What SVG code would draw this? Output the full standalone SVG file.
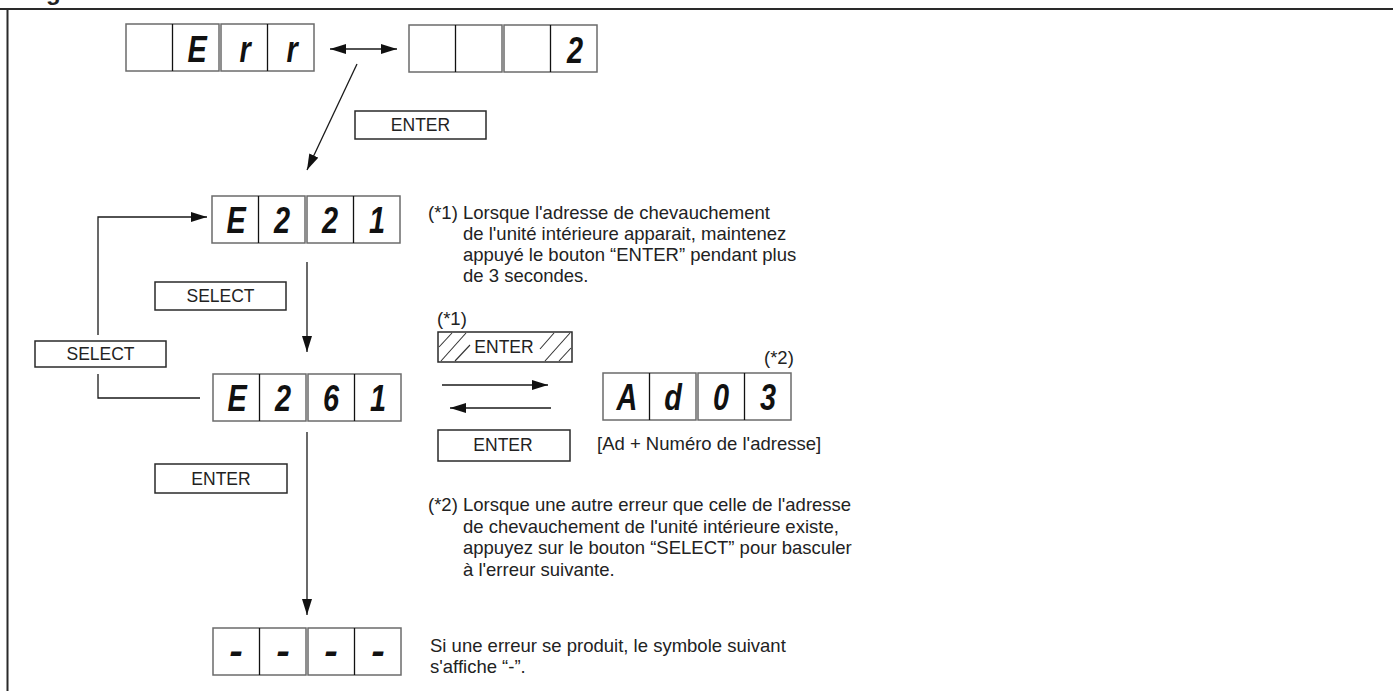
<svg xmlns="http://www.w3.org/2000/svg" width="1393" height="691" viewBox="0 0 1393 691">
<style>
  .frame{stroke:#2a2a2a;stroke-width:2;fill:none}
  .unit{fill:#fff;stroke:#6b6b6b;stroke-width:1.5}
  .div{stroke:#111;stroke-width:1.3}
  .seg{font-family:"Liberation Sans",Arial,sans-serif;font-weight:bold;font-style:italic;font-size:37px;fill:#111;text-anchor:middle}
  .btn{fill:#fff;stroke:#2a2a2a;stroke-width:1.5}
  .btxt{font-family:"Liberation Sans",Arial,sans-serif;font-size:17.5px;fill:#222;text-anchor:middle}
  .note{font-family:"Liberation Sans",Arial,sans-serif;font-size:18.5px;fill:#222}
  .con{stroke:#1a1a1a;stroke-width:1.3;fill:none}
  .hatch{stroke:#333;stroke-width:1.1}
</style>
<defs>
  <marker id="ah" markerUnits="userSpaceOnUse" markerWidth="17" markerHeight="10" refX="16" refY="5" orient="auto-start-reverse">
    <path d="M0,0 L16,5 L0,10 z" fill="#111"/>
  </marker>
</defs>
<rect x="0" y="0" width="1393" height="691" fill="#fff"/>
<g id="frame">
  <line class="frame" x1="0" y1="9" x2="1393" y2="9"/>
  <line class="frame" x1="7.5" y1="9" x2="7.5" y2="691"/>
  <text x="46" y="0" font-family="Liberation Sans,Arial,sans-serif" font-weight="bold" font-size="24" fill="#222">g</text>
</g>

<g id="disp-err">
  <rect class="unit" x="126" y="24" width="93" height="47"/>
  <rect class="unit" x="221" y="24" width="93" height="47"/>
  <line class="div" x1="172.5" y1="24" x2="172.5" y2="71"/>
  <line class="div" x1="267.5" y1="24" x2="267.5" y2="71"/>
  <text class="seg" transform="translate(197,62) scale(0.78,1)">E</text>
  <text class="seg" transform="translate(245,62) scale(0.78,1)">r</text>
  <text class="seg" transform="translate(292,62) scale(0.78,1)">r</text>
</g>

<g id="disp-2">
  <rect class="unit" x="409" y="25" width="93" height="47"/>
  <rect class="unit" x="504" y="25" width="93" height="47"/>
  <line class="div" x1="455.5" y1="25" x2="455.5" y2="72"/>
  <line class="div" x1="550.5" y1="25" x2="550.5" y2="72"/>
  <text class="seg" transform="translate(575,63) scale(0.78,1)">2</text>
</g>

<g id="disp-e221">
  <rect class="unit" x="212" y="196" width="93" height="47"/>
  <rect class="unit" x="307" y="196" width="93" height="47"/>
  <line class="div" x1="258.5" y1="196" x2="258.5" y2="243"/>
  <line class="div" x1="353.5" y1="196" x2="353.5" y2="243"/>
  <text class="seg" transform="translate(236,233) scale(0.78,1)">E</text>
  <text class="seg" transform="translate(282,233) scale(0.78,1)">2</text>
  <text class="seg" transform="translate(330,233) scale(0.78,1)">2</text>
  <text class="seg" transform="translate(377,233) scale(0.78,1)">1</text>
</g>

<g id="disp-e261">
  <rect class="unit" x="213" y="374" width="93" height="47"/>
  <rect class="unit" x="308" y="374" width="93" height="47"/>
  <line class="div" x1="259.5" y1="374" x2="259.5" y2="421"/>
  <line class="div" x1="354.5" y1="374" x2="354.5" y2="421"/>
  <text class="seg" transform="translate(237,411) scale(0.78,1)">E</text>
  <text class="seg" transform="translate(283,411) scale(0.78,1)">2</text>
  <text class="seg" transform="translate(331,411) scale(0.78,1)">6</text>
  <text class="seg" transform="translate(378,411) scale(0.78,1)">1</text>
</g>

<g id="disp-ad03">
  <rect class="unit" x="603" y="373" width="93" height="47"/>
  <rect class="unit" x="698" y="373" width="93" height="47"/>
  <line class="div" x1="649.5" y1="373" x2="649.5" y2="420"/>
  <line class="div" x1="744.5" y1="373" x2="744.5" y2="420"/>
  <text class="seg" transform="translate(627,410) scale(0.78,1)">A</text>
  <text class="seg" transform="translate(673,410) scale(0.78,1)">d</text>
  <text class="seg" transform="translate(721,410) scale(0.78,1)">0</text>
  <text class="seg" transform="translate(768,410) scale(0.78,1)">3</text>
</g>

<g id="disp-dash">
  <rect class="unit" x="213" y="628" width="93" height="47"/>
  <rect class="unit" x="308" y="628" width="93" height="47"/>
  <line class="div" x1="259.5" y1="628" x2="259.5" y2="675"/>
  <line class="div" x1="354.5" y1="628" x2="354.5" y2="675"/>
  <text class="seg" transform="translate(236,663) scale(1.1,1)">-</text>
  <text class="seg" transform="translate(283,663) scale(1.1,1)">-</text>
  <text class="seg" transform="translate(331,663) scale(1.1,1)">-</text>
  <text class="seg" transform="translate(378,663) scale(1.1,1)">-</text>
</g>

<g id="btn-enter-top">
  <rect class="btn" x="355" y="111" width="131" height="28"/>
  <text class="btxt" x="420.5" y="131">ENTER</text>
</g>
<g id="btn-select-mid">
  <rect class="btn" x="155" y="282" width="131" height="28"/>
  <text class="btxt" x="220.5" y="302">SELECT</text>
</g>
<g id="btn-select-left">
  <rect class="btn" x="35" y="341" width="131" height="26"/>
  <text class="btxt" x="100.5" y="360">SELECT</text>
</g>
<g id="btn-enter-left">
  <rect class="btn" x="155" y="464" width="132" height="29"/>
  <text class="btxt" x="221" y="485">ENTER</text>
</g>
<g id="btn-enter-hatched">
  <rect class="btn" x="438" y="332" width="134" height="30"/>
  <line class="hatch" x1="439" y1="347" x2="452" y2="333"/>
  <line class="hatch" x1="441" y1="361" x2="466" y2="333"/>
  <line class="hatch" x1="455" y1="361" x2="470" y2="345"/>
  <line class="hatch" x1="540" y1="349" x2="554" y2="333"/>
  <line class="hatch" x1="545" y1="361" x2="570" y2="333"/>
  <line class="hatch" x1="559" y1="361" x2="571" y2="348"/>
  <text class="btxt" x="504" y="353">ENTER</text>
</g>
<g id="btn-enter-bottom">
  <rect class="btn" x="438" y="430" width="132" height="31"/>
  <text class="btxt" x="503" y="451">ENTER</text>
</g>

<g id="notes">
  <text class="note" x="428" y="219">(*1) Lorsque l'adresse de chevauchement</text>
  <text class="note" x="463" y="240">de l'unité intérieure apparait, maintenez</text>
  <text class="note" x="463" y="261">appuyé le bouton “ENTER” pendant plus</text>
  <text class="note" x="463" y="282">de 3 secondes.</text>
  <text class="note" x="437" y="325">(*1)</text>
  <text class="note" x="764" y="364">(*2)</text>
  <text class="note" x="597" y="450">[Ad + Numéro de l'adresse]</text>
  <text class="note" x="428" y="511">(*2) Lorsque une autre erreur que celle de l'adresse</text>
  <text class="note" x="463" y="532.5">de chevauchement de l'unité intérieure existe,</text>
  <text class="note" x="463" y="554">appuyez sur le bouton “SELECT” pour basculer</text>
  <text class="note" x="463" y="575.5">à l'erreur suivante.</text>
  <text class="note" x="430" y="652">Si une erreur se produit, le symbole suivant</text>
  <text class="note" x="430" y="673">s'affiche “-”.</text>
</g>

<g id="connectors">
  <line class="con" x1="330" y1="49" x2="397" y2="49" marker-start="url(#ah)" marker-end="url(#ah)"/>
  <line class="con" x1="357" y1="64" x2="307" y2="170" marker-end="url(#ah)"/>
  <polyline class="con" points="200,398 98,398 98,374"/>
  <polyline class="con" points="98,335 98,217 207,217" marker-end="url(#ah)"/>
  <line class="con" x1="307" y1="262" x2="307" y2="352" marker-end="url(#ah)"/>
  <line class="con" x1="307" y1="432" x2="307" y2="615" marker-end="url(#ah)"/>
  <line class="con" x1="442" y1="385" x2="548" y2="385" marker-end="url(#ah)"/>
  <line class="con" x1="551" y1="408" x2="450" y2="408" marker-end="url(#ah)"/>
</g>
</svg>
